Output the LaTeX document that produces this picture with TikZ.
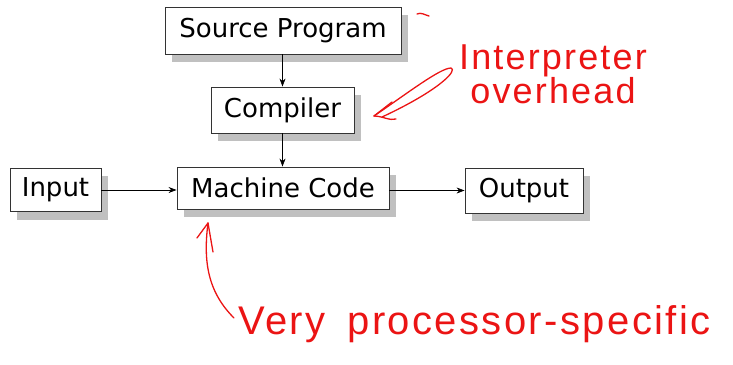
\documentclass[tikz,border=0pt]{standalone}
\usepackage{fontspec}
\setmainfont{DejaVu Sans}
\newfontfamily\handfont[LetterSpace=6]{Liberation Sans}
\usetikzlibrary{arrows.meta,backgrounds}
\definecolor{shadowgray}{RGB}{192,192,192}
\definecolor{inkred}{RGB}{235,20,20}
\tikzset{
  box/.style={draw=black!80, line width=0.9pt, fill=white, inner sep=0pt,
              font=\fontsize{26}{30}\selectfont, text=black},
  conn/.style={-{Stealth[length=8pt,width=6pt]}, line width=0.7pt, black},
  ink/.style={draw=inkred, line width=1.3pt, line cap=round, line join=round},
  inktext/.style={text=inkred, font=\handfont\fontsize{36}{34}\selectfont, inner sep=0pt}
}
\begin{document}
\begin{tikzpicture}[x=1pt,y=-1pt]
\useasboundingbox (0,0) rectangle (733,364);
\node[box, minimum width=236pt, minimum height=47pt] (src) at (283,30.5) {Source Program};
\node[box, minimum width=143pt, minimum height=46pt] (comp) at (282.5,110) {Compiler};
\node[box, minimum width=91pt, minimum height=43pt] (inp) at (55.5,190) {Input};
\node[box, minimum width=212pt, minimum height=42pt] (mc) at (283,188) {Machine Code};
\node[box, minimum width=118pt, minimum height=45pt] (out) at (524,190.5) {Output};
\begin{scope}[on background layer]
\foreach \n in {src,comp,inp,mc,out}
  \fill[shadowgray] ([shift={(7,8)}]\n.north west) rectangle ([shift={(7,8)}]\n.south east);
\end{scope}
\draw[conn] (src.south -| comp.north) -- (comp.north);
\draw[conn] (comp.south) -- (comp.south |- mc.north);
\draw[conn] (inp.east) -- (mc.west |- inp.east);
\draw[conn] (mc.east |- out.west) -- (out.west);
% annotations
\node[inktext, align=center] (interp) at (553,74) {Interpreter\\overhead};
\node[inktext, anchor=base west, font=\handfont\fontsize{40}{40}\selectfont] (very) at (238,334) {Very\hspace{22pt}processor-specific};
\coordinate (t1) at (374,116);
\coordinate (t2) at (208,223);
\draw[ink] (t1) .. controls (405,95) and (440,68) .. (451,68) .. controls (458,70) and (440,90) .. (382,117);
\draw[ink] (t1) -- (392,102);
\draw[ink] (t1) .. controls (382,116) and (390,121) .. (396,119);
\draw[ink] (417,14) .. controls (421,12) and (425,15) .. (429,16);
\draw[ink] (234,318) .. controls (208,292) and (203,262) .. (t2);
\draw[ink] (t2) -- (197,238);
\draw[ink] (t2) -- (213,252);
\end{tikzpicture}
\end{document}
